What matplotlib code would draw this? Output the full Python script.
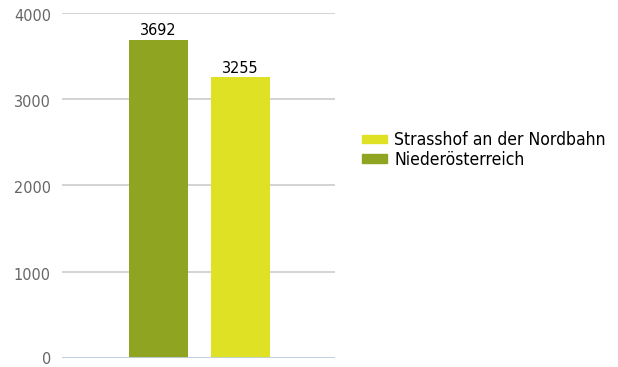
import matplotlib
matplotlib.use("Agg")
import matplotlib.pyplot as plt
import matplotlib.transforms as mtransforms
from matplotlib.patches import Patch

plt.rcParams["font.family"] = ["DejaVu Sans Condensed", "DejaVu Sans"]
plt.rcParams["font.stretch"] = "condensed"

regions = ["Niederösterreich", "Strasshof an der Nordbahn"]
values = [3692, 3255]
colors = ["#8fa521", "#dfe125"]
yticks = [0, 1000, 2000, 3000, 4000]

fig = plt.figure(figsize=(6.18, 3.67), dpi=100)
ax = fig.add_axes([62 / 618, 1 - 358 / 367, 273 / 618, 345 / 367])

positions = list(range(len(values)))
bars = ax.bar(positions, values, width=0.72, color=colors, zorder=3)
for b, v in zip(bars, values):
    ax.text(b.get_x() + b.get_width() / 2, v + 15, str(v), ha="center", va="bottom",
            fontsize=11.6, color="#000000")

ax.set_xlim(-1.177, 2.152)
ax.set_ylim(0, 4000)
ax.set_yticks(yticks)
ax.set_yticklabels([str(t) for t in yticks], fontsize=11.6, color="#666666")
ax.set_xticks([])
ax.tick_params(axis="y", length=0, pad=8)
# nudge the upper y tick labels slightly below their gridlines
shift = mtransforms.ScaledTranslation(0, -2 / 100, fig.dpi_scale_trans)
for lbl in ax.get_yticklabels()[1:]:
    lbl.set_transform(lbl.get_transform() + shift)
for s in ax.spines.values():
    s.set_visible(False)
ax.grid(axis="y", color="#cccccc", linewidth=1.2, zorder=0)
ax.axhline(0, color="#bfcfe3", linewidth=2, zorder=4)

handles = [Patch(color=colors[1], label=regions[1]), Patch(color=colors[0], label=regions[0])]
fig.legend(handles=handles, loc="upper left", bbox_to_anchor=(355 / 618, 1 - 124 / 367),
           frameon=False, fontsize=12.6, handlelength=1.4, handleheight=0.35,
           handletextpad=0.45, labelspacing=0.1, borderaxespad=0)

fig.savefig("out.png", dpi=100)
